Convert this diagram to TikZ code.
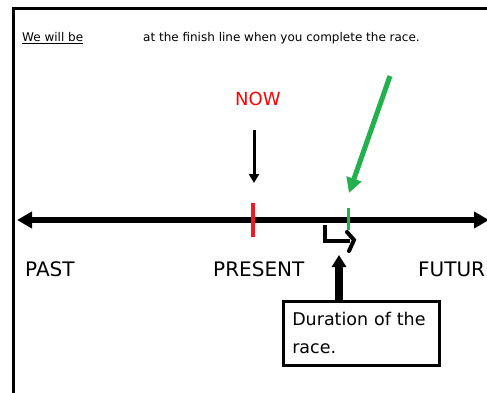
\documentclass[tikz,border=0pt]{standalone}
\usepackage{fontspec}
\setmainfont{DejaVu Sans}
\usetikzlibrary{arrows.meta}
\definecolor{paintred}{RGB}{237,28,36}
\definecolor{paintgreen}{RGB}{34,177,76}
\begin{document}
\begin{tikzpicture}[x=1pt, y=-1pt,
    word/.style={inner sep=0pt, anchor=base west, font=\fontsize{20}{24}\selectfont},
    small/.style={inner sep=0pt, anchor=base west, font=\fontsize{12}{14}\selectfont},
    timeline/.style={line width=5.5pt, {Triangle[length=15pt,width=16pt]}-{Triangle[length=15pt,width=16pt]}},
    durbox/.style={draw, line width=2.5pt, anchor=north west, align=left, text width=138pt,
        inner xsep=9pt, minimum width=156pt, minimum height=64pt,
        font=\fontsize{17.5}{28}\selectfont}]
    \useasboundingbox (0,0) rectangle (487,393);
    \clip (0,0) rectangle (487,393);

    % Frame around the sheet
    \draw[line width=3pt] (13,9) rectangle (520,420);

    % Sentence at the top
    \node[small] (webe) at (22,42) {\underline{We will be}};
    \node[small] (finish) at (143,42) {at the finish line when you complete the race.};

    % The time line
    \coordinate (pastend) at (17,220);
    \coordinate (futend) at (489,220);
    \draw[timeline] (pastend) -- (futend);
    \draw[paintred, line width=4pt] (253,203) -- (253,237);
    \draw[paintgreen, line width=3pt] (348,208) -- (348,230);

    \node[word] (past) at (25,276) {PAST};
    \node[word] (present) at (213,276) {PRESENT};
    \node[word] (future) at (418,276) {FUTURE};

    % Now marker
    \node[word, red, font=\fontsize{18}{22}\selectfont] (now) at (235,106) {NOW};
    \coordinate (nowtip) at (254,183);
    \draw[line width=3pt, -{Triangle[length=9pt,width=10pt]}] (nowtip |- 0,130) -- (nowtip);

    % Green pointer to the finish line
    \coordinate (hint) at (390,76);
    \coordinate (line) at (349,193);
    \draw[paintgreen, line width=5pt, -{Triangle[length=15pt,width=15pt]}] (hint) -- (line);

    % Duration bracket
    \draw[line width=4.5pt] (325,225) |- (350,241);
    \draw[line width=4pt, line cap=round] (347,232) -- (354,240) -- (349,251);

    % Box with explanation
    \node[durbox] (dur) at (282,300) {Duration of the\\race.};
    \coordinate (durtip) at (339,255);
    \draw[line width=8pt, -{Triangle[length=12pt,width=14pt]}] (durtip |- dur.north) -- (durtip);
\end{tikzpicture}
\end{document}
